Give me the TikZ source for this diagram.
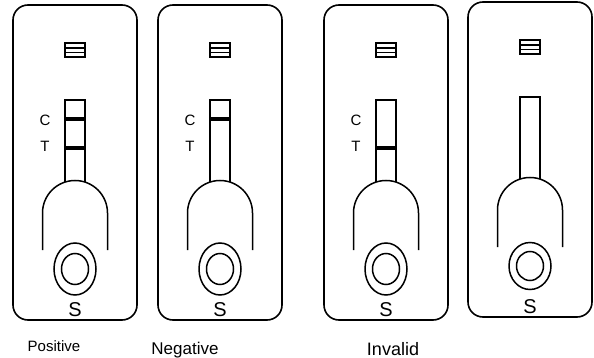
\documentclass[tikz,border=0pt]{standalone}
\usepackage{fontspec}
\setmainfont{Liberation Sans}

\tikzset{
	cardbox/.style={draw, line width=1.6pt, rounded corners=15pt},
	band/.style={line width=4pt},
	marklbl/.style={font=\fontsize{15}{15}\selectfont, inner sep=0pt},
	padlbl/.style={font=\fontsize{20}{20}\selectfont, inner sep=0pt, anchor=base},
	resultlbl/.style={font=\fontsize{#1}{#1}\selectfont, inner sep=0pt, anchor=base},
}

\begin{document}
\begin{tikzpicture}[x=1pt, y=-1pt, line width=1.5pt]
	\useasboundingbox (0,0) rectangle (594,358);

	% one cassette per entry: centre, lift, C band, T band, C/T marks, well radii
	\foreach \cx/\dy/\hasC/\hasT/\marks/\ry/\iry/\n in {%
		75/0/1/1/1/26/15.5/a,
		220/0/1/0/1/26/15.5/b,
		386/0/0/1/1/26/15.5/c,
		530/-3/0/0/0/23.5/14.5/d}
	{
		\begin{scope}[shift={(\cx,\dy)}]
			\draw[cardbox] (-62,5) rectangle (62,320);
			% reading window
			\draw (-10,43) rectangle (10,57);
			\draw[line width=2pt] (-10,48) -- (10,48);
			\draw[line width=1.2pt] (-10,52.5) -- (10,52.5);
			% test strip running into the sample pad
			\draw (-10,182) -- (-10,100) -- (10,100) -- (10,182);
			\ifnum\hasC=1 \draw[band] (-10,119) -- (10,119); \fi
			\ifnum\hasT=1 \draw[band] (-10,148.5) -- (10,148.5); \fi
			\ifnum\marks=1
				\node[marklbl] (c\n) at (-30,120) {C};
				\node[marklbl] (t\n) at (-30,146) {T};
			\fi
			\draw (-32.5,250) -- (-32.5,213)
				arc[start angle=180, end angle=360, radius=32.5] -- (32.5,250);
			% sample well
			\draw (0,269) ellipse [x radius=21, y radius=\ry];
			\draw (0,269) ellipse [x radius=13.5, y radius=\iry];
			\node[padlbl] (s\n) at (0,316) {S};
		\end{scope}
	}

	\node[resultlbl=15] (pos) at (54,351) {Positive};
	\node[resultlbl=17] (neg) at (185,354) {Negative};
	\node[resultlbl=18] (inv) at (393,355) {Invalid};
\end{tikzpicture}
\end{document}
